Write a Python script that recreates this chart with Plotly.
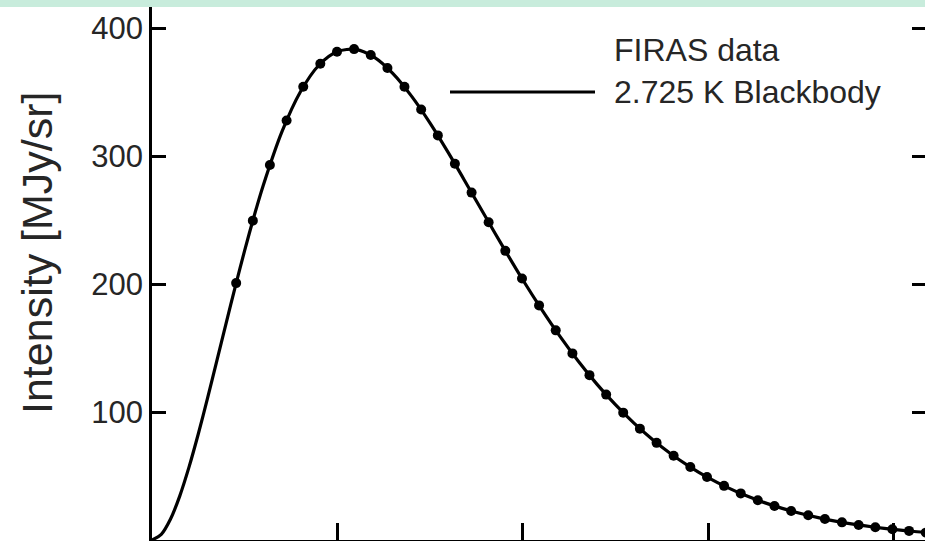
import plotly.graph_objects as go

# FIRAS data points (frequency in cm^-1, intensity in MJy/sr)
firas_freq = [2.27, 2.72, 3.18, 3.63, 4.08, 4.54, 4.99, 5.45, 5.90, 6.35, 6.81,
              7.26, 7.71, 8.17, 8.62, 9.08, 9.53, 9.98, 10.44, 10.89, 11.34,
              11.80, 12.25, 12.71, 13.16, 13.61, 14.07, 14.52, 14.97, 15.43,
              15.88, 16.34, 16.79, 17.24, 17.70, 18.15, 18.61, 19.06, 19.51,
              19.97, 20.42, 20.87, 21.33]
firas_intensity = [200.7, 249.5, 293.0, 327.8, 354.1, 372.1, 381.5, 383.5, 378.9,
                   368.8, 354.1, 336.3, 316.1, 293.9, 271.4, 248.2, 225.9, 204.3,
                   183.3, 163.8, 145.8, 128.8, 113.6, 99.5, 87.0, 75.9, 65.8,
                   57.0, 49.2, 42.3, 36.4, 31.1, 26.6, 22.6, 19.3, 16.4, 13.8,
                   11.7, 9.9, 8.4, 7.1, 5.8, 4.5]

# 2.725 K blackbody curve samples
bb_freq = [0, 0.25, 0.5, 0.75, 1.0, 1.25, 1.5, 1.75, 2.0, 2.25, 2.5, 2.75, 3.0,
           3.5, 4.0, 4.5, 5.0, 5.5, 6.0, 6.5, 7.0, 7.5, 8.0, 8.5, 9.0, 9.5,
           10.0, 10.5, 11.0, 11.5, 12.0, 12.5, 13.0, 13.5, 14.0, 14.5, 15.0,
           15.5, 16.0, 16.5, 17.0, 17.5, 18.0, 18.5, 19.0, 19.5, 20.0, 20.5, 21.0]
bb_intensity = [0, 4.4, 16.4, 34.5, 57.1, 83.0, 111.0, 140.1, 169.5, 198.4,
                226.3, 252.6, 276.9, 318.6, 350.0, 370.9, 381.6, 383.3, 377.0,
                364.4, 346.8, 325.7, 302.2, 277.4, 252.3, 227.4, 203.3, 180.6,
                159.3, 139.7, 121.8, 105.7, 91.3, 78.5, 67.2, 57.4, 48.7, 41.3,
                34.9, 29.4, 24.7, 20.7, 17.3, 14.4, 12.0, 9.95, 8.24, 6.82, 5.63]

y_ticks = [100, 200, 300, 400]
y_tick_text = ["100", "200", "300", "400"]
x_ticks = [0, 5, 10, 15, 20]

W, H = 925, 541
L, R, T, B = 152, 0, 7, 1
PW, PH = W - L - R, H - T - B
XMAX = 20.85
YMAX = (H - B - T) / 128 * 100

FONT = "Liberation Sans, Arial, Helvetica, sans-serif"
TXT = "#262626"


def px_x(p):
    return (p - L) / PW


def px_y(p):
    return (H - B - p) / PH


fig = go.Figure()
fig.add_trace(go.Scatter(x=bb_freq, y=bb_intensity, mode="lines",
                         line=dict(color="black", width=3.2, shape="spline", smoothing=0.8),
                         hoverinfo="skip", showlegend=False))
fig.add_trace(go.Scatter(x=firas_freq, y=firas_intensity, mode="markers",
                         marker=dict(color="black", size=10),
                         showlegend=False))
fig.add_trace(go.Scatter(x=[], y=[], yaxis="y2", showlegend=False))

fig.update_layout(
    width=W, height=H,
    margin=dict(l=L, r=R, t=T, b=B, pad=0),
    paper_bgcolor="white", plot_bgcolor="white",
    font=dict(family=FONT, color=TXT, size=31),
    xaxis=dict(range=[0, XMAX], tickvals=x_ticks, ticks="inside", ticklen=17,
               tickwidth=2.5, tickcolor="black", showticklabels=False,
               showline=True, linecolor="black", linewidth=2.5,
               showgrid=False, zeroline=False),
    yaxis=dict(range=[0, YMAX], tickvals=y_ticks, ticktext=y_tick_text,
               ticks="inside", ticklen=14, tickwidth=2.5, tickcolor="black",
               tickfont=dict(size=31, color=TXT),
               showline=True, linecolor="black", linewidth=2.5,
               showgrid=False, zeroline=False, ticklabelstandoff=0),
    yaxis2=dict(range=[0, YMAX], overlaying="y", side="right", tickvals=y_ticks,
                ticks="inside", ticklen=13, tickwidth=2.5, tickcolor="black",
                showticklabels=False, showline=False, showgrid=False, zeroline=False),
    shapes=[
        dict(type="rect", xref="paper", yref="paper", x0=-0.25, x1=1.05,
             y0=1.0, y1=1.0 + 10 / PH, fillcolor="#c8ecdc", line=dict(width=0),
             layer="above"),
        dict(type="line", xref="paper", yref="paper", x0=px_x(450), x1=px_x(595),
             y0=px_y(92), y1=px_y(92), line=dict(color="black", width=3)),
    ],
    annotations=[
        dict(text="FIRAS data", xref="paper", yref="paper", x=px_x(612), y=px_y(50),
             xanchor="left", yanchor="middle", showarrow=False,
             font=dict(size=32, color=TXT)),
        dict(text="2.725 K Blackbody", xref="paper", yref="paper", x=px_x(612),
             y=px_y(92), xanchor="left", yanchor="middle", showarrow=False,
             font=dict(size=32, color=TXT)),
        dict(text="Intensity [MJy/sr]", xref="paper", yref="paper", x=px_x(37),
             y=px_y(252), xanchor="center", yanchor="middle", textangle=-90,
             showarrow=False, font=dict(size=43, color=TXT)),
    ],
)

fig.write_html("out.html", post_script="document.body.style.margin='0';",
               config={"displayModeBar": False})
